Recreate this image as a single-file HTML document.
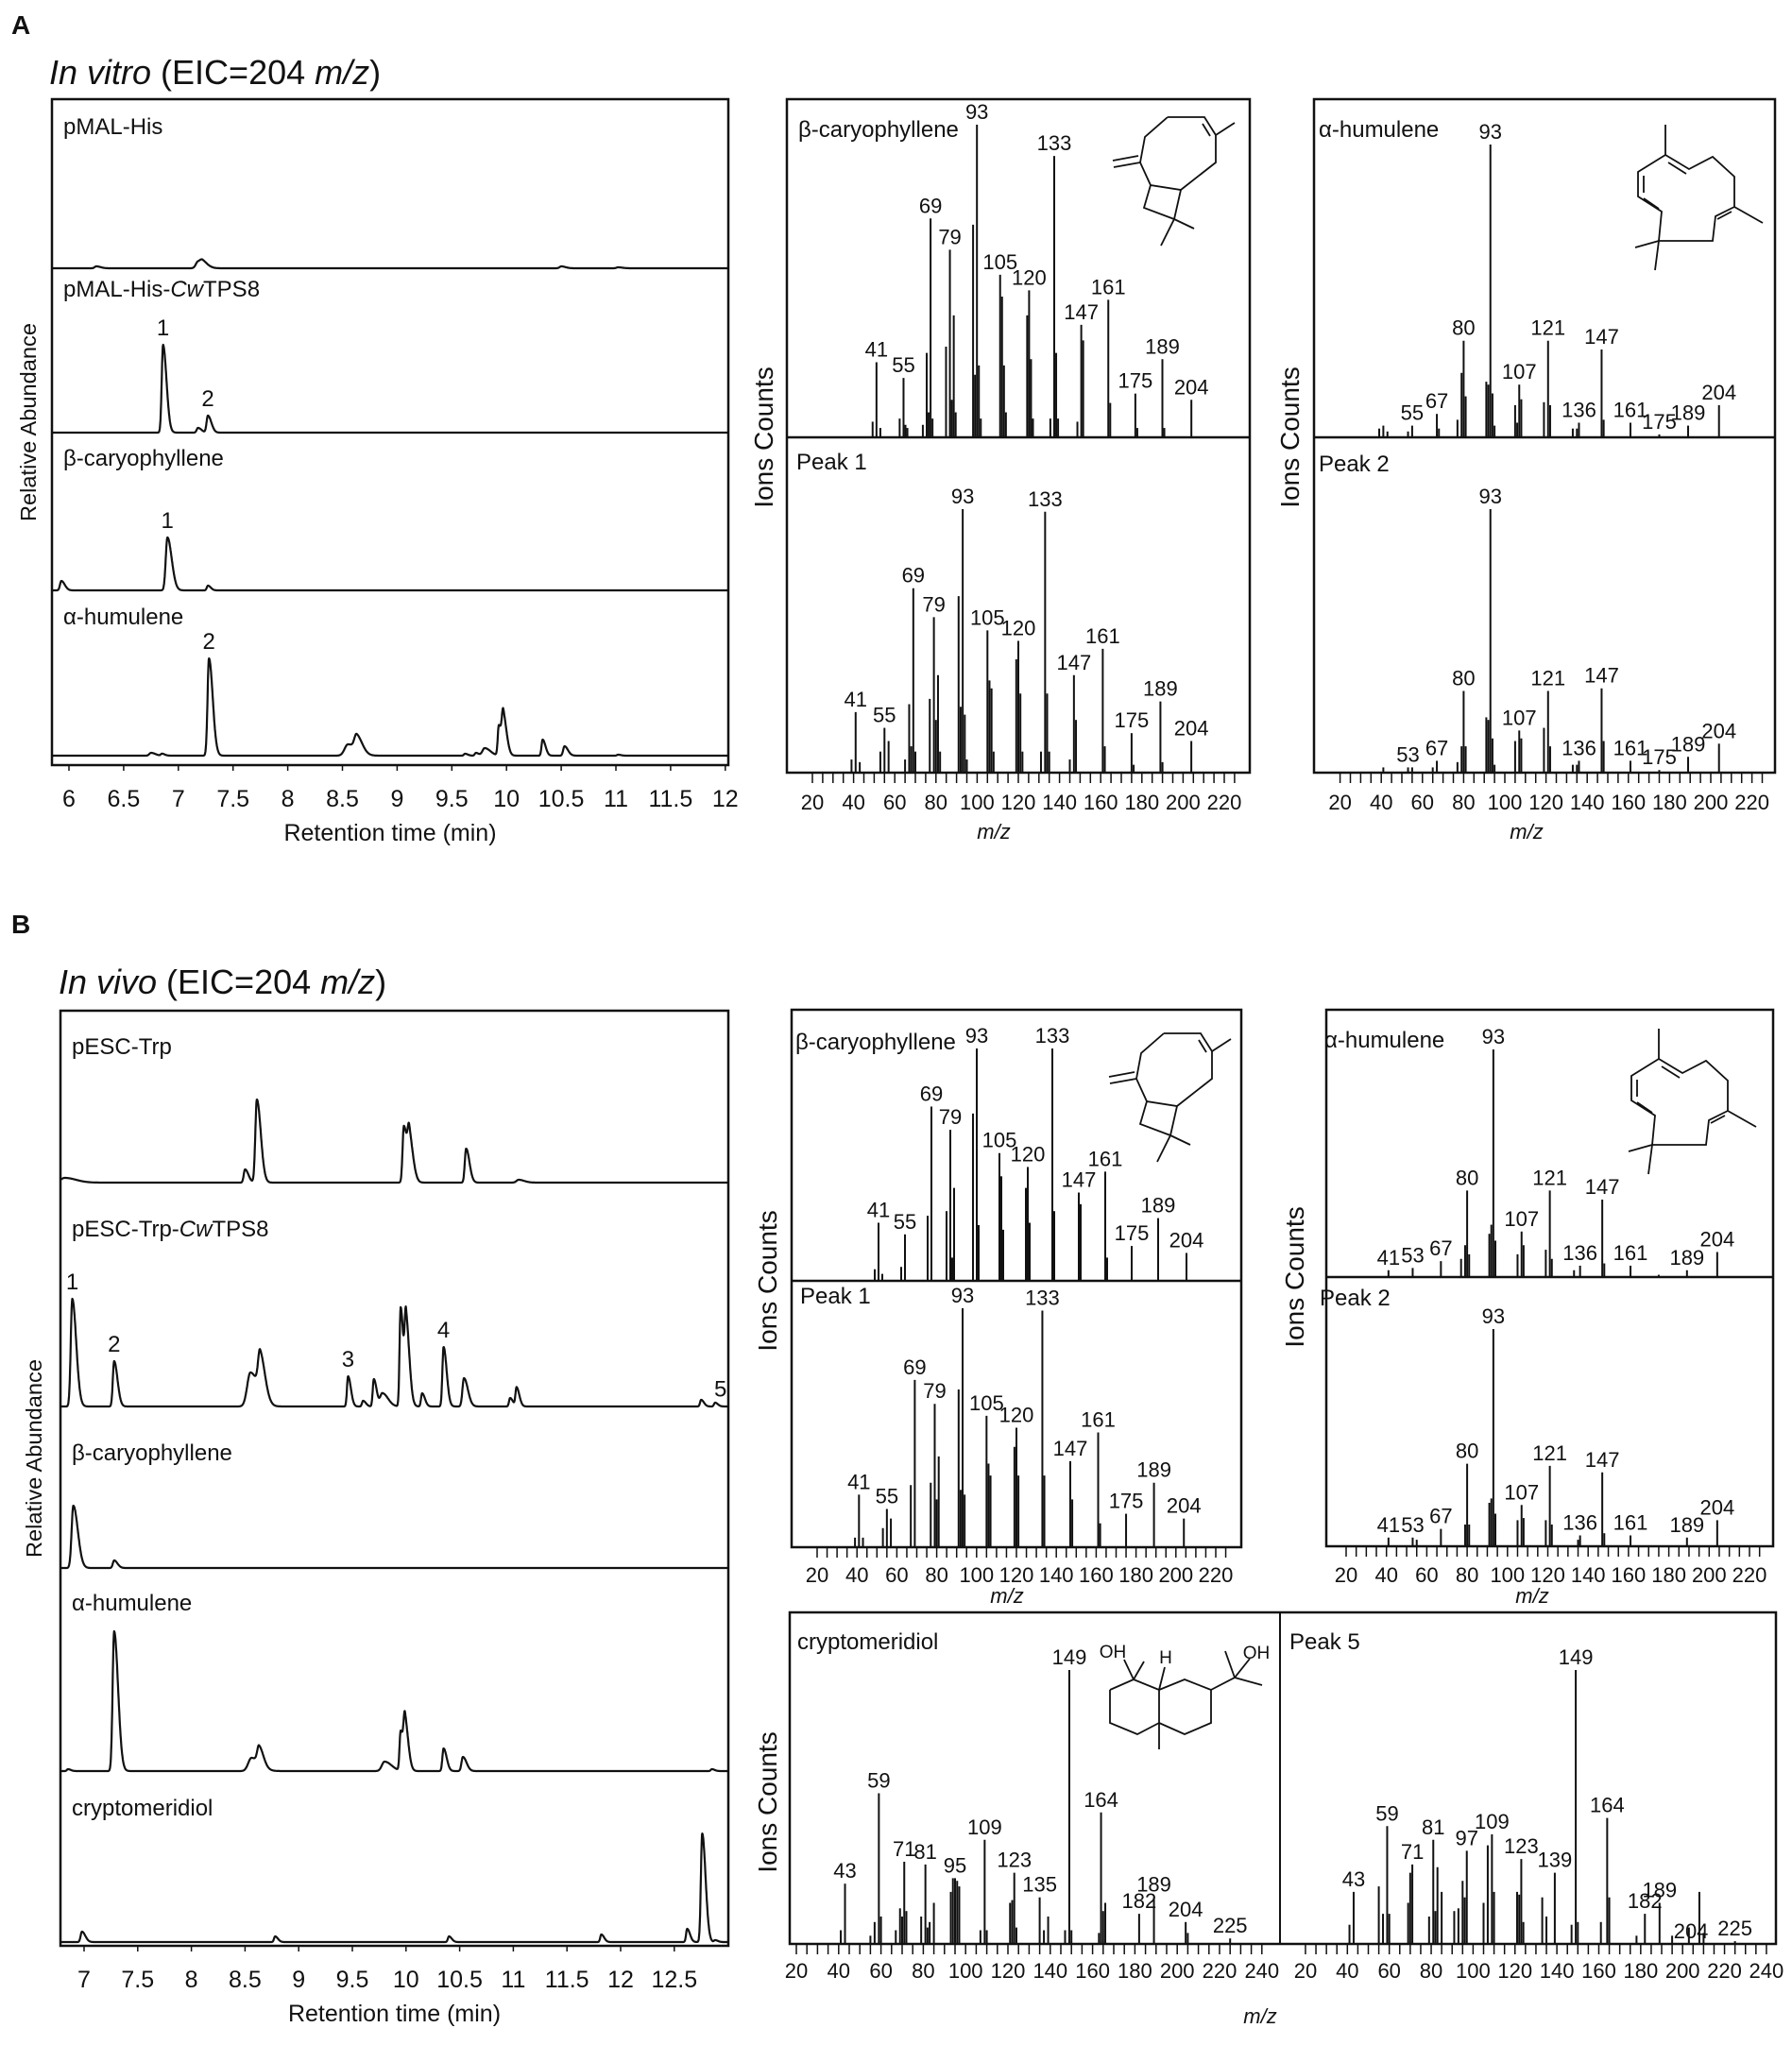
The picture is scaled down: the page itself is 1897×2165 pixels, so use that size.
<!DOCTYPE html>
<html><head><meta charset="utf-8"><title>CwTPS8 GC-MS</title>
<style>
html,body{margin:0;padding:0;background:#fff;}
svg{display:block;font-family:"Liberation Sans",Arial,sans-serif;}
</style></head>
<body>
<svg id="chart" xmlns="http://www.w3.org/2000/svg" width="1897" height="2165" viewBox="0 0 1897 2165"></svg>
<script>
// ---------- Chromatogram data (retention time min, height px, sigma min) ----------
const trA1_rt=[6.25,7.18,7.22,10.5,11.02];
const trA1_h=[2,7,4,2,1];
const trA1_w=[0.015,0.02,0.02,0.015,0.015];
const trA2_rt=[6.86,7.18,7.27];
const trA2_h=[93,5,18];
const trA2_w=[0.012,0.012,0.012];
const trA3_rt=[5.93,6.9,7.27];
const trA3_h=[10,56,5];
const trA3_w=[0.012,0.015,0.01];
const trA4_rt=[6.75,6.85,7.28,8.55,8.63,9.62,9.72,9.8,9.93,9.97,10.33,10.53,11.02];
const trA4_h=[3,2,103,12,16,2,3,8,32,40,17,10,1];
const trA4_w=[0.015,0.01,0.013,0.03,0.02,0.01,0.01,0.02,0.01,0.012,0.01,0.012,0.01];

const trB1_rt=[6.82,8.5,8.61,9.98,10.03,10.56,11.05];
const trB1_h=[5,14,88,60,45,36,3];
const trB1_w=[0.04,0.012,0.014,0.012,0.014,0.012,0.02];
const trB2_rt=[6.89,7.28,8.55,8.64,9.46,9.6,9.7,9.78,9.95,10.0,10.15,10.35,10.54,10.97,11.03,12.75,12.88];
const trB2_h=[114,48,36,42,32,6,29,14,105,88,14,63,30,9,20,7,4];
const trB2_w=[0.014,0.012,0.03,0.018,0.01,0.01,0.01,0.02,0.01,0.012,0.01,0.011,0.014,0.01,0.01,0.01,0.01];
const trB3_rt=[6.9,7.28];
const trB3_h=[66,8];
const trB3_w=[0.016,0.012];
const trB4_rt=[6.85,7.28,8.56,8.63,9.8,9.95,9.99,10.35,10.53,12.85];
const trB4_h=[2,148,14,18,10,42,50,24,15,2];
const trB4_w=[0.01,0.014,0.03,0.016,0.025,0.01,0.012,0.011,0.013,0.01];
const trB5_rt=[6.98,8.78,10.4,11.82,12.62,12.76,12.88];
const trB5_h=[11,6,6,8,14,115,2];
const trB5_w=[0.012,0.01,0.01,0.01,0.01,0.012,0.01];

const ticksA=[6,6.5,7,7.5,8,8.5,9,9.5,10,10.5,11,11.5,12];
const ticksB=[7,7.5,8,8.5,9,9.5,10,10.5,11,11.5,12,12.5];

// ---------- Mass spectra data (m/z, relative intensity %) ----------
const caryoA_mz=[39,41,43,53,55,56,57,65,67,68,69,70,77,79,80,81,82,91,92,93,94,95,105,106,107,108,119,120,121,122,131,133,134,135,145,147,148,161,162,175,176,189,190,204];
const caryoA_i=[5,24,3,6,19,4,3,4,27,8,70,6,29,60,12,39,8,68,20,100,23,6,52,45,23,8,39,47,25,6,6,90,27,6,5,36,31,44,11,14,3,25,3,12];
const peak1A_mz=[39,41,43,53,55,57,65,67,68,69,70,77,79,80,81,82,91,92,93,94,95,105,106,107,108,119,120,121,122,131,133,134,135,145,147,148,161,162,175,176,189,190,204];
const peak1A_i=[5,23,4,8,17,12,5,26,10,70,8,28,59,20,37,8,67,25,100,22,5,54,35,32,8,43,50,30,8,8,99,30,8,5,37,20,47,10,15,3,27,4,12];
const humA_mz=[39,41,43,53,55,67,68,77,79,80,81,91,92,93,94,95,105,106,107,108,119,121,122,133,135,136,147,148,161,175,189,204];
const humA_i=[3,4,2,2,4,8,3,6,22,33,14,19,18,100,15,4,11,5,18,13,12,33,11,3,3,5,30,6,5,1,4,11];
const peak2A_mz=[41,53,55,65,67,77,79,80,81,91,92,93,94,95,105,107,108,119,121,122,133,135,136,147,148,161,175,189,204];
const peak2A_i=[2,2,2,2,4.5,4,10,31,10,21,20,100,13,3,12,16,13,17,31,10,3,3,4.5,32,12,4.5,1,6,11];

const caryoB_mz=[39,41,43,53,55,67,69,77,79,80,81,91,93,94,105,106,107,119,120,121,133,134,147,148,161,162,175,189,204];
const caryoB_i=[5,25,3,6,20,28,75,30,65,10,40,72,100,24,55,45,22,40,49,25,100,30,38,33,47,10,15,27,12];
const peak1B_mz=[39,41,43,53,55,57,67,69,77,79,80,81,91,92,93,94,105,106,107,119,120,121,133,134,147,148,161,162,175,189,204];
const peak1B_i=[4,22,4,8,16,12,26,70,27,60,20,38,66,24,100,22,55,35,30,42,50,30,99,30,36,20,48,10,14,27,12];
const humB_mz=[41,53,67,77,79,80,81,91,92,93,94,105,107,108,119,121,122,133,136,147,148,161,175,189,204];
const humB_i=[3,4,7,8,14,38,10,19,23,100,16,10,20,14,12,38,8,3,5,34,6,5,1,3,11];
const peak2B_mz=[41,53,55,67,79,80,81,91,92,93,94,105,107,108,119,121,122,135,136,147,148,161,189,204];
const peak2B_i=[4,4,3,8,10,38,10,20,22,100,15,12,19,13,12,37,10,3,5,34,6,5,4,12];

const crypto_mz=[41,43,55,57,59,60,67,69,70,71,72,79,81,82,83,85,93,94,95,96,97,107,109,110,121,122,123,124,135,137,139,147,149,150,163,164,165,166,182,189,204,205,225];
const crypto_i=[5,22,3,8,55,10,5,13,10,30,12,10,29,6,8,15,19,24,24,23,21,5,38,5,15,16,26,6,17,5,10,5,100,5,4,48,12,15,11,17,8,4,2];
const peak5_mz=[41,43,55,57,59,60,69,70,71,79,81,82,83,85,91,93,95,96,97,105,107,109,110,121,122,123,124,133,135,139,147,149,150,161,164,165,178,182,189,195,203,208,210,225];
const peak5_i=[7,19,21,11,43,11,15,26,29,10,38,12,28,19,12,13,23,17,34,15,36,40,19,19,18,31,8,17,10,26,7,100,8,8,46,17,3,11,15,3,6,19,4,1];

const caryo_lab=[41,55,69,79,93,105,120,133,147,161,175,189,204];
const humA_lab=[55,67,80,93,107,121,136,147,161,175,189,204];
const peak2A_lab=[53,67,80,93,107,121,136,147,161,175,189,204];
const humB_lab=[41,53,67,80,93,107,121,136,147,161,189,204];
const crypto_lab=[43,59,71,81,95,109,123,135,149,164,182,189,204,225];
const peak5_lab=[43,59,71,81,97,109,123,139,149,164,182,189,204,225];

// ---------- drawing ----------
const NS="http://www.w3.org/2000/svg";
const svg=document.getElementById('chart');
function mk(tag,parent){const e=document.createElementNS(NS,tag);parent.appendChild(e);return e;}
function attrs(e,o){for(const k in o)e.setAttribute(k,o[k]);return e;}
function txt(parent,x,y,s,size,anchor,name){
  const t=mk('text',parent);
  attrs(t,{x:x,y:y,'font-size':size,'text-anchor':anchor||'start',fill:'#111'});
  t.textContent=s;
  
  
  return t;
}
function rect(parent,x1,y1,x2,y2,name){
  const r=mk('rect',parent);
  attrs(r,{x:x1,y:y1,width:x2-x1,height:y2-y1,fill:'none',stroke:'#111','stroke-width':2.5});
  
  
}
function line(parent,x1,y1,x2,y2,w,name){
  const l=mk('line',parent);
  attrs(l,{x1:x1,y1:y1,x2:x2,y2:y2,stroke:'#111','stroke-width':w});
  
  
}
function richText(parent,x,y,size,parts,name,anchor){
  const t=mk('text',parent);
  attrs(t,{x:x,y:y,'font-size':size,fill:'#111','text-anchor':anchor||'start'});
  
  
  parts.forEach(p=>{const s=mk('tspan',t);s.textContent=p[0];if(p[1])s.setAttribute('font-style','italic');});
  return t;
}

function trace(parent,ax,base,rt,h,w,name,tStart,tEnd){
  let d='';
  for(let t=tStart;t<=tEnd;t+=0.003){
    let y=0;
    for(let i=0;i<rt.length;i++){
      const s=t<rt[i]?w[i]:w[i]*2.6;
      const z=(t-rt[i])/s;
      y+=h[i]*Math.exp(-z*z/2);
    }
    d+=(d?'L':'M')+ax(t).toFixed(1)+','+(base-y).toFixed(1);
  }
  const p=mk('path',parent);
  attrs(p,{d:d,fill:'none',stroke:'#111','stroke-width':2.2,'stroke-linejoin':'round'});
  
  
}

function chromPanel(cfg){
  const g=mk('g',svg);
  
  
  rect(g,cfg.x1,cfg.y1,cfg.x2,cfg.y2,cfg.name+'-frame');
  const ax=t=>cfg.x0+(t-cfg.t0)*cfg.px;
  const tS=(cfg.x1-cfg.x0)/cfg.px+cfg.t0+0.005, tE=(cfg.x2-cfg.x0)/cfg.px+cfg.t0-0.005;
  cfg.traces.forEach((tr,i)=>{
    trace(g,ax,tr.base,tr.rt,tr.h,tr.w,cfg.name+'-trace-'+(i+1),tS,tE);
    richText(g,cfg.x1+12,tr.ly,24,tr.label,cfg.name+'-trace-label-'+(i+1));
    (tr.peaks||[]).forEach(pk=>{
      let y=0;
      for(let k=0;k<tr.rt.length;k++){const s=pk[0]<tr.rt[k]?tr.w[k]:tr.w[k]*2.6;const z=(pk[0]-tr.rt[k])/s;y+=tr.h[k]*Math.exp(-z*z/2);}
      txt(g,ax(pk[0]),tr.base-y-10,pk[1],24,'middle','peak-number-'+pk[1]);
    });
  });
  cfg.ticks.forEach(t=>{
    line(g,ax(t),cfg.y2,ax(t),cfg.y2+6,1.5,'x-tick');
    txt(g,ax(t),cfg.y2+44,String(t),25,'middle','x-tick-label');
  });
  txt(g,(cfg.x1+cfg.x2)/2,cfg.y2+80,'Retention time (min)',25,'middle','x-axis-title');
  const ra=txt(g,0,0,'Relative Abundance',23,'middle','y-axis-title');
  attrs(ra,{transform:'translate('+cfg.yx+','+cfg.yy+') rotate(-90)',textLength:210,lengthAdjust:'spacingAndGlyphs'});
}

function spectrum(g,p,mz,inten,labels,name){
  for(let i=0;i<mz.length;i++){
    const x=p.xa+p.xb*mz[i];
    line(g,x,p.base,x,p.base-inten[i]*p.full/100,2,name+'-bar');
  }
  labels.forEach(m=>{
    const idx=mz.indexOf(m);
    const v=idx>=0?inten[idx]:0;
    txt(g,p.xa+p.xb*m,p.base-v*p.full/100-6,String(m),22,'middle',name+'-peak-label');
  });
}
function mzAxis(g,xa,xb,base,from,to,lbY,name){
  for(let m=from;m<=to;m+=5) line(g,xa+xb*m,base,xa+xb*m,base+11,1.5,name+'-tick');
  for(let m=from;m<=to;m+=20) txt(g,xa+xb*m,lbY,String(m),22,'middle',name+'-tick-label');
}
function ionsLabel(g,x,y,name){
  const t=txt(g,0,0,'Ions Counts',28,'middle',name);
  attrs(t,{transform:'translate('+x+','+y+') rotate(-90)'});
}
function poly(g,pts,name,dx,dy){
  const p=mk('polyline',g);
  attrs(p,{points:pts.map(q=>(q[0]+dx)+','+(q[1]+dy)).join(' '),fill:'none',stroke:'#111','stroke-width':1.8});
  
  
}
function caryophyllene(g,dx,dy){
  poly(g,[[1236,124],[1275,124],[1287,143],[1287,172],[1250,201],[1218,196],[1207,172],[1212,145],[1236,124]],'caryophyllene-ring',dx,dy);
  poly(g,[[1273,131],[1281,144]],'caryophyllene-double-bond',dx,dy);
  poly(g,[[1287,143],[1307,130]],'caryophyllene-methyl',dx,dy);
  poly(g,[[1207,172],[1179,177]],'caryophyllene-methylene',dx,dy);
  poly(g,[[1205,165],[1178,170]],'caryophyllene-methylene-2',dx,dy);
  poly(g,[[1218,196],[1211,220],[1243,232],[1250,201]],'caryophyllene-cyclobutane',dx,dy);
  poly(g,[[1264,242],[1243,232],[1229,260]],'caryophyllene-gem-dimethyl',dx,dy);
}
function humulene(g,dx,dy){
  poly(g,[[1763,164],[1788,179],[1813,166],[1836,187],[1836,219],[1816,229],[1813,255],[1756,255],[1759,224],[1734,208],[1734,182],[1763,164]],'humulene-ring',dx,dy);
  poly(g,[[1763,132],[1763,164]],'humulene-methyl-1',dx,dy);
  poly(g,[[1836,219],[1866,236]],'humulene-methyl-2',dx,dy);
  poly(g,[[1731,262],[1756,255],[1752,286]],'humulene-gem-dimethyl',dx,dy);
  poly(g,[[1766,172],[1785,184]],'humulene-db-1',dx,dy);
  poly(g,[[1833,224],[1818,232]],'humulene-db-2',dx,dy);
  poly(g,[[1740,210],[1756,221]],'humulene-db-3',dx,dy);
  poly(g,[[1740,186],[1740,204]],'humulene-db-4',dx,dy);
}

// ---- Panel letters & titles ----
txt(svg,12,36,'A',28,'start','panel-label-a').setAttribute('font-weight','bold');
richText(svg,52,89,36,[['In vitro',1],[' (EIC=204 ',0],['m/z',1],[')',0]],'panel-a-title');
txt(svg,12,988,'B',28,'start','panel-label-b').setAttribute('font-weight','bold');
richText(svg,62,1052,36,[['In vivo',1],[' (EIC=204 ',0],['m/z',1],[')',0]],'panel-b-title');

chromPanel({name:'in-vitro-chromatogram',x1:55,y1:105,x2:771,y2:810,x0:73,t0:6,px:115.8,ticks:ticksA,yx:38,yy:447,
  traces:[
    {base:284,rt:trA1_rt,h:trA1_h,w:trA1_w,ly:142,label:[['pMAL-His',0]]},
    {base:458,rt:trA2_rt,h:trA2_h,w:trA2_w,ly:314,label:[['pMAL-His-',0],['Cw',1],['TPS8',0]],peaks:[[6.86,'1'],[7.27,'2']]},
    {base:625,rt:trA3_rt,h:trA3_h,w:trA3_w,ly:493,label:[['β-caryophyllene',0]],peaks:[[6.9,'1']]},
    {base:800,rt:trA4_rt,h:trA4_h,w:trA4_w,ly:661,label:[['α-humulene',0]],peaks:[[7.28,'2']]}
  ]});
chromPanel({name:'in-vivo-chromatogram',x1:64,y1:1070,x2:771,y2:2060,x0:89,t0:7,px:113.6,ticks:ticksB,yx:44,yy:1544,
  traces:[
    {base:1252,rt:trB1_rt,h:trB1_h,w:trB1_w,ly:1116,label:[['pESC-Trp',0]]},
    {base:1489,rt:trB2_rt,h:trB2_h,w:trB2_w,ly:1309,label:[['pESC-Trp-',0],['Cw',1],['TPS8',0]],peaks:[[6.89,'1'],[7.28,'2'],[9.46,'3'],[10.35,'4'],[12.93,'5']]},
    {base:1660,rt:trB3_rt,h:trB3_h,w:trB3_w,ly:1546,label:[['β-caryophyllene',0]]},
    {base:1875,rt:trB4_rt,h:trB4_h,w:trB4_w,ly:1705,label:[['α-humulene',0]]},
    {base:2056,rt:trB5_rt,h:trB5_h,w:trB5_w,ly:1922,label:[['cryptomeridiol',0]]}
  ]});

// ---- MS panel A left ----
let g=mk('g',svg);


rect(g,833,105,1323,818,'ms-a-left-frame');
line(g,833,463,1323,463,2.5,'ms-divider');
spectrum(g,{xa:844,xb:2.045,base:463,full:331},caryoA_mz,caryoA_i,caryo_lab,'caryophyllene-std');
spectrum(g,{xa:816.4,xb:2.18,base:818,full:279},peak1A_mz,peak1A_i,caryo_lab,'peak1');
mzAxis(g,816.4,2.18,818,20,225,857,'ms-a-left-x');
richText(g,1052,888,22,[['m/z',1]],'x-axis-title','middle');
ionsLabel(g,818,463,'y-axis-title');
txt(g,845,145,'β-caryophyllene',24,'start','spectrum-title');
txt(g,843,497,'Peak 1',24,'start','spectrum-title');
caryophyllene(g,0,0);

// ---- MS panel A right ----
g=mk('g',svg);


rect(g,1391,105,1879,818,'ms-a-right-frame');
line(g,1391,463,1879,463,2.5,'ms-divider');
spectrum(g,{xa:1375,xb:2.18,base:463,full:310},humA_mz,humA_i,humA_lab,'humulene-std');
spectrum(g,{xa:1375,xb:2.18,base:818,full:279},peak2A_mz,peak2A_i,peak2A_lab,'peak2');
mzAxis(g,1375,2.18,818,20,225,857,'ms-a-right-x');
richText(g,1616,888,22,[['m/z',1]],'x-axis-title','middle');
ionsLabel(g,1375,463,'y-axis-title');
txt(g,1396,145,'α-humulene',24,'start','spectrum-title');
txt(g,1396,499,'Peak 2',24,'start','spectrum-title');
humulene(g,0,0);

// ---- MS panel B left ----
g=mk('g',svg);


rect(g,838,1069,1314,1638,'ms-b-left-frame');
line(g,838,1356,1314,1356,2.5,'ms-divider');
spectrum(g,{xa:848,xb:2.0,base:1356,full:246},caryoB_mz,caryoB_i,caryo_lab,'caryophyllene-std');
spectrum(g,{xa:822.8,xb:2.11,base:1638,full:253},peak1B_mz,peak1B_i,caryo_lab,'peak1');
mzAxis(g,822.8,2.11,1638,20,225,1675,'ms-b-left-x');
richText(g,1066,1697,22,[['m/z',1]],'x-axis-title','middle');
ionsLabel(g,822,1356,'y-axis-title');
txt(g,842,1111,'β-caryophyllene',24,'start','spectrum-title');
txt(g,847,1380,'Peak 1',24,'start','spectrum-title');
caryophyllene(g,-4,970);

// ---- MS panel B right ----
g=mk('g',svg);


rect(g,1404,1069,1877,1637,'ms-b-right-frame');
line(g,1404,1352,1877,1352,2.5,'ms-divider');
spectrum(g,{xa:1382.3,xb:2.135,base:1352,full:241},humB_mz,humB_i,humB_lab,'humulene-std');
spectrum(g,{xa:1382.3,xb:2.135,base:1637,full:230},peak2B_mz,peak2B_i,humB_lab,'peak2');
mzAxis(g,1382.3,2.135,1637,20,225,1675,'ms-b-right-x');
richText(g,1622,1697,22,[['m/z',1]],'x-axis-title','middle');
ionsLabel(g,1380,1352,'y-axis-title');
txt(g,1402,1109,'α-humulene',24,'start','spectrum-title');
txt(g,1397,1382,'Peak 2',24,'start','spectrum-title');
humulene(g,-7,957);

// ---- MS cryptomeridiol / peak 5 ----
g=mk('g',svg);


rect(g,836,1707,1880,2058,'ms-c-frame');
line(g,1355,1707,1355,2058,2,'ms-divider');
spectrum(g,{xa:798.2,xb:2.24,base:2058,full:290},crypto_mz,crypto_i,crypto_lab,'cryptomeridiol-std');
spectrum(g,{xa:1337.6,xb:2.218,base:2058,full:290},peak5_mz,peak5_i,peak5_lab,'peak5');
mzAxis(g,798.2,2.24,2058,20,240,2094,'ms-c-left-x');
mzAxis(g,1337.6,2.218,2058,20,240,2094,'ms-c-right-x');
richText(g,1334,2142,22,[['m/z',1]],'x-axis-title','middle');
ionsLabel(g,822,1908,'y-axis-title');
txt(g,844,1746,'cryptomeridiol',24,'start','spectrum-title');
txt(g,1365,1746,'Peak 5',24,'start','spectrum-title');
// cryptomeridiol structure
poly(g,[[1175,1789],[1200,1778],[1227,1789],[1227,1824],[1204,1836],[1175,1824],[1175,1789]],'decalin-left-ring',0,0);
poly(g,[[1227,1789],[1254,1778],[1282,1789],[1282,1824],[1254,1836],[1227,1824]],'decalin-right-ring',0,0);
poly(g,[[1227,1824],[1227,1852]],'angular-methyl',0,0);
poly(g,[[1200,1778],[1190,1757]],'oh-bond',0,0);
poly(g,[[1200,1778],[1211,1759]],'methyl-c1',0,0);
poly(g,[[1227,1789],[1233,1765]],'h-bond',0,0);
poly(g,[[1282,1789],[1307,1776],[1323,1756]],'side-chain-oh',0,0);
poly(g,[[1307,1776],[1297,1748]],'side-chain-methyl-1',0,0);
poly(g,[[1307,1776],[1336,1784]],'side-chain-methyl-2',0,0);
txt(g,1178,1755,'OH',19,'middle','oh-label');
txt(g,1234,1761,'H',19,'middle','h-label');
txt(g,1330,1756,'OH',19,'middle','oh-label-2');
</script>
</body></html>
